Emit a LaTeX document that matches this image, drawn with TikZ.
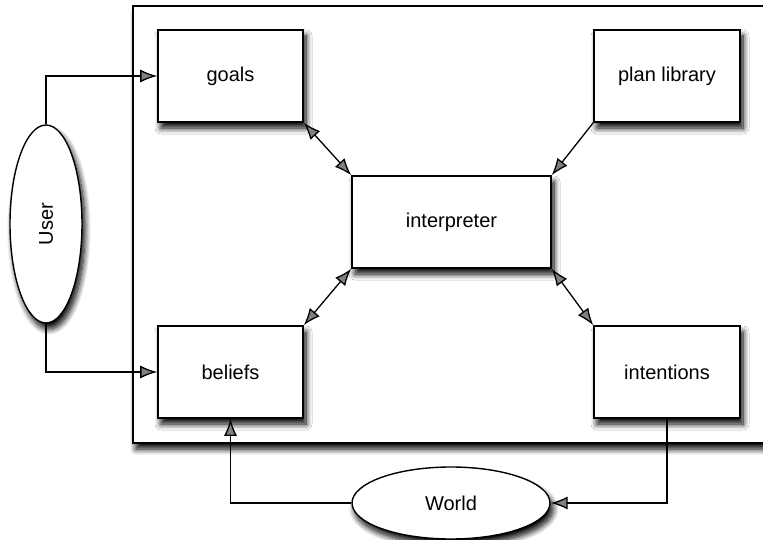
\documentclass[tikz,border=0pt]{standalone}
\usepackage{fontspec}
\setmainfont{Liberation Sans}
\usetikzlibrary{shapes.geometric,shadows.blur,arrows.meta}

\begin{document}
\begin{tikzpicture}[x=1pt,y=-1pt]
\tikzset{ombre/.style={blur shadow={shadow xshift=3pt, shadow yshift=-6pt, shadow blur radius=6pt, shadow blur steps=10, shadow opacity=100}}}
\tikzset{boite/.style={draw, line width=1.6pt, fill=white, minimum width=145pt, minimum height=92pt, inner sep=0pt, ombre, font=\fontsize{20}{24}\selectfont}}
\tikzset{bulle/.style={draw, ellipse, line width=1.4pt, fill=white, inner sep=0pt, ombre, font=\fontsize{20}{24}\selectfont}}
\tikzset{fleche/.style={line width=1.3pt, -{Latex[length=17pt,width=13pt]}}}
\tikzset{double/.style={line width=1.3pt, {Latex[length=17pt,width=13pt]}-{Latex[length=17pt,width=13pt]}}}
\useasboundingbox (0,0) rectangle (763,540);
\clip (0,0) rectangle (763,540);
\draw[line width=1.6pt, fill=white, ombre] (133,6) rectangle (790,443);
\node[boite] (goals) at (230.5,76) {goals};
\node[boite, minimum width=146pt] (plan) at (667,76) {plan library};
\node[boite, minimum width=199pt] (interp) at (451.5,222) {interpreter};
\node[boite] (beliefs) at (230.5,372) {beliefs};
\node[boite, minimum width=146pt] (intent) at (667,372) {intentions};
\node[bulle, minimum width=72pt, minimum height=198pt] (user) at (46,224) {\rotatebox{90}{User}};
\node[bulle, minimum width=198pt, minimum height=72pt] (world) at (451,503) {World};
\draw[fleche] (user.north) |- (goals.west);
\draw[fleche] (user.south) |- (beliefs.west);
\draw[double] (goals.south east) -- (interp.north west);
\draw[fleche] (plan.south west) -- (interp.north east);
\draw[double] (interp.south west) -- (beliefs.north east);
\draw[double] (interp.south east) -- (intent.north west);
\draw[fleche] (intent.south) |- (world.east);
\draw[fleche] (world.west) -| (beliefs.south);
\end{tikzpicture}
\end{document}
